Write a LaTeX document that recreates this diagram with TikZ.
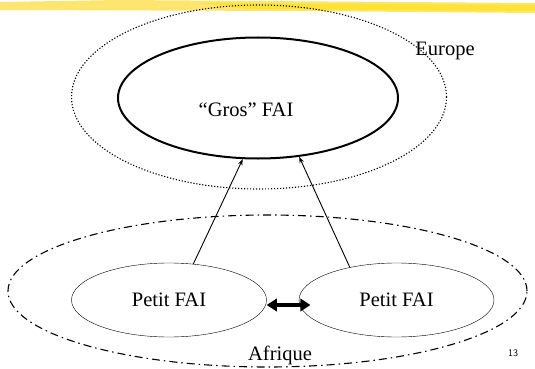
\documentclass[tikz,border=0pt]{standalone}
\usepackage{fontspec}
\setmainfont{Liberation Serif}
\usepackage{tikz}
\usetikzlibrary{shapes.geometric, arrows.meta}

\begin{document}
\begin{tikzpicture}[
    x=1pt, y=-1pt,
    % region boundaries
    region/.style={
        ellipse, draw=black, line width=1.1pt,
        inner sep=0pt
    },
    % provider ellipses
    fai/.style={
        ellipse, draw=black, inner sep=0pt,
        font=\fontsize{20.5}{24}\selectfont
    },
    arrow/.style={-{Stealth[length=2.2mm, width=1.6mm]}, black, line width=0.9pt},
    biarrow/.style={{Triangle[length=3.6mm, width=4.4mm]}-{Triangle[length=3.6mm, width=4.4mm]}, black, line width=3.2pt},
    label/.style={font=\fontsize{20.5}{24}\selectfont},
]
\useasboundingbox (0,0) rectangle (535,369);

% yellow brush band on top
\fill[yellow!70!orange!55] (0,2) -- (120,0) -- (535,3) -- (535,13) -- (300,11) -- (0,10) -- cycle;
\fill[yellow!80!orange!80] (200,3) -- (535,5) -- (535,11) -- (250,9) -- cycle;

% Europe region
\node[region, dash pattern=on 1.2pt off 1.8pt, minimum width=375, minimum height=184] (europe) at (259,97) {};
\node[label] (europelbl) at (445,51) {Europe};

% big provider
\node[fai, line width=2pt, minimum width=280, minimum height=121] (gros) at (258,98) {};
\node[label] (groslbl) at (246,110) {``Gros'' FAI};

% Afrique region
\node[region, dash pattern=on 8pt off 4pt on 1.5pt off 4pt, minimum width=519, minimum height=152] (afrique) at (267.5,291) {};
\node[label] (afriquelbl) at (280,355) {Afrique};

% small providers
\node[fai, minimum width=195, minimum height=74] (petitg) at (169,300) {Petit FAI};
\node[fai, minimum width=195, minimum height=74] (petitd) at (396.5,300) {Petit FAI};

% page number
\node[font=\sffamily\fontsize{10}{12}\selectfont] (page) at (513,353) {13};

% arrows
\draw[arrow] (petitg.56.6) -- (gros.256.9);
\draw[arrow] (petitd.145.5) -- (gros.305.4);
\draw[biarrow] ([yshift=-5pt]petitg.east) -- ([xshift=11.7pt, yshift=-5pt]petitd.west);

\end{tikzpicture}
\end{document}
